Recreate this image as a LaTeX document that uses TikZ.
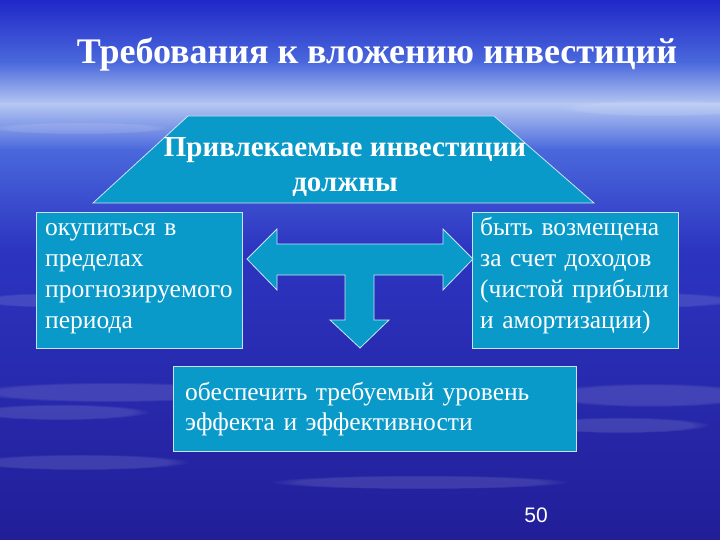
\documentclass[tikz,border=0pt]{standalone}
\usepackage{fontspec}
\setmainfont{Liberation Serif}
\setsansfont{Liberation Sans}
\usetikzlibrary{fadings}

\definecolor{skytop}{HTML}{2028C8}
\definecolor{skymid}{HTML}{4A68DC}
\definecolor{skylight}{HTML}{B4C6F2}
\definecolor{skyblue}{HTML}{2C34C0}
\definecolor{skydeep}{HTML}{221E98}
\definecolor{boxfill}{HTML}{0A9ACA}
\definecolor{boxline}{HTML}{C8E4F4}

\tikzset{
    box/.style={draw=boxline, line width=0.8pt, fill=boxfill, inner sep=0pt},
    boxtext/.style={text=white, align=left, inner sep=0pt, text width=260,
                    anchor=base west, font=\fontsize{25.5}{30.7}\selectfont},
    shapeline/.style={draw=boxline, line width=0.8pt, fill=boxfill},
    streak/.style={white, opacity=0.12, path fading=circle with fuzzy edge 20 percent}
}

\begin{document}
\begin{tikzpicture}[x=1pt, y=-1pt]
    \useasboundingbox (0,0) rectangle (720,540);

    % Background sky
    \shade[top color=skytop, bottom color=skymid] (0,0) rectangle (720,62);
    \shade[top color=skymid, bottom color=skylight] (0,62) rectangle (720,104);
    \shade[top color=skylight, bottom color=skymid] (0,104) rectangle (720,150);
    \shade[top color=skymid, bottom color=skyblue] (0,150) rectangle (720,250);
    \shade[top color=skyblue, bottom color=skydeep] (0,250) rectangle (720,540);

    % Cloud streaks
    \fill[streak] (110,392) ellipse (140 and 10);
    \fill[streak] (60,412) ellipse (90 and 8);
    \fill[streak] (650,395) ellipse (110 and 12);
    \fill[streak] (620,425) ellipse (90 and 8);
    \fill[streak] (80,462) ellipse (110 and 8);
    \fill[streak] (420,482) ellipse (150 and 7);
    \fill[streak] (640,300) ellipse (100 and 8);
    \fill[streak] (40,300) ellipse (60 and 7);
    \fill[streak] (660,108) ellipse (100 and 8);
    \fill[streak] (80,128) ellipse (90 and 6);

    % Title
    \node[text=white, font=\fontsize{36}{40}\selectfont\bfseries, anchor=base]
        (title) at (377,64) {Требования к вложению инвестиций};

    % Head trapezium
    \coordinate (tl) at (188,116);
    \coordinate (tr) at (494,116);
    \coordinate (br) at (594,203);
    \coordinate (bl) at (93,203);
    \path[shapeline] (tl) -- (tr) -- (br) -- (bl) -- cycle;
    \node[text=white, font=\fontsize{29}{35}\selectfont\bfseries, align=center]
        (head) at (345,167) {Привлекаемые инвестиции\\должны};

    % Boxes
    \node[box, minimum width=206, minimum height=136] (left) at (139,280) {};
    \node[box, minimum width=206, minimum height=136] (right) at (575,280) {};
    \node[box, minimum width=403, minimum height=85] (bottom) at (374.5,408.5) {};

    % Box texts
    \node[boxtext] (lefttext) at (45,236)
        {окупиться в\\пределах\\прогнозируемого\\периода};
    \node[boxtext] (righttext) at (480,236)
        {быть возмещена\\за счет доходов\\(чистой прибыли\\и амортизации)};
    \node[boxtext, text width=390] (bottomtext) at (185,400)
        {обеспечить требуемый уровень\\эффекта и эффективности};

    % T-shaped arrow
    \path[shapeline] (247,259) -- (277,229) -- (277,244) -- (443,244)
        -- (443,229) -- (473,259) -- (443,290) -- (443,275) -- (374,275)
        -- (374,320) -- (389,320) -- (360,348) -- (330,320) -- (345,320)
        -- (345,275) -- (277,275) -- (277,290) -- cycle;

    % Slide number
    \node[text=white, font=\sffamily\fontsize{21}{24}\selectfont, anchor=base]
        (num) at (536,522) {50};
\end{tikzpicture}
\end{document}
